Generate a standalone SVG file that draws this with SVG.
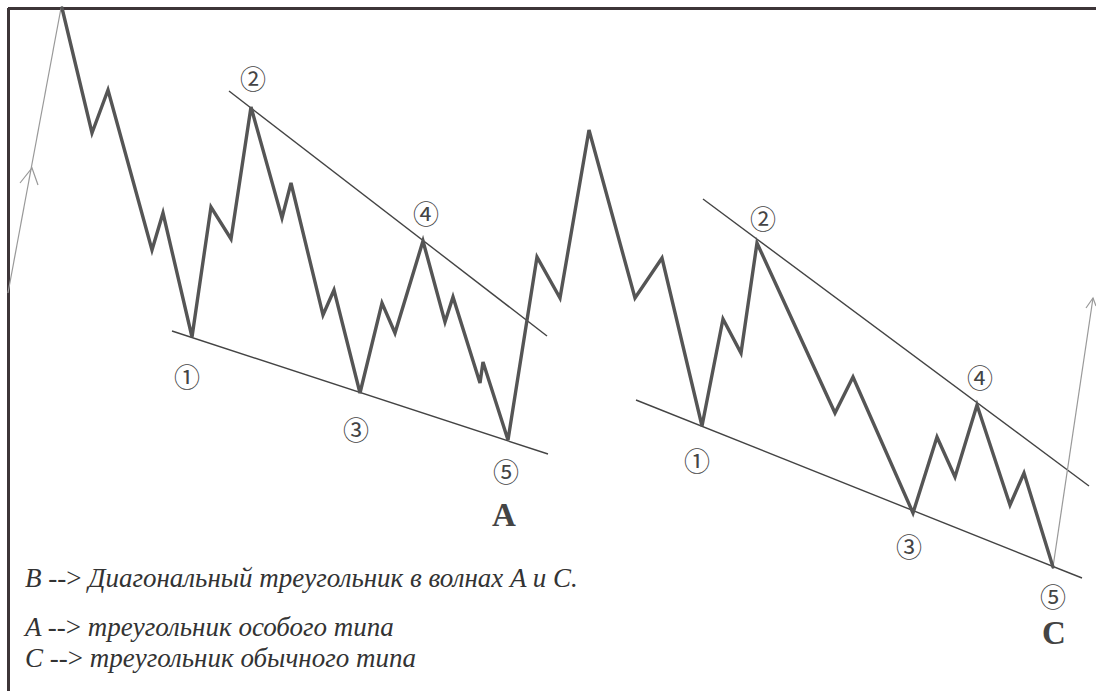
<svg xmlns="http://www.w3.org/2000/svg" width="1096" height="691" viewBox="0 0 1096 691">
  <style>
    .frame { stroke: #3d3538; stroke-width: 3; fill: none; }
    .wave { stroke: #555; stroke-width: 3.4; fill: none; stroke-linejoin: miter; stroke-linecap: round; }
    .trend { stroke: #444; stroke-width: 1.4; fill: none; }
    .thin { stroke: #999; stroke-width: 1.2; fill: none; }
    .num { font-family: "Noto Sans CJK JP", "DejaVu Sans", sans-serif; font-size: 26px; fill: #444; text-anchor: middle; dominant-baseline: central; }
    .big { font-family: "Liberation Serif", serif; font-weight: bold; font-size: 33px; fill: #444; text-anchor: middle; }
    .note { font-family: "Liberation Serif", serif; font-style: italic; font-size: 27px; fill: #333; }
    .up { font-style: normal; }
  </style>
  <rect width="1096" height="691" fill="#fff"/>
  <g id="frame">
    <line class="frame" x1="8" y1="8.5" x2="1096" y2="8.5"/>
    <line class="frame" x1="8.5" y1="8" x2="8.5" y2="691"/>
  </g>
  <g id="connectors">
    <g id="trendlines">
      <line class="trend" x1="229" y1="91" x2="547" y2="336"/>
      <line class="trend" x1="172" y1="331" x2="548" y2="454"/>
      <line class="trend" x1="703" y1="199" x2="1089" y2="486"/>
      <line class="trend" x1="636" y1="400" x2="1082" y2="578"/>
    </g>
    <g id="arrows">
      <path class="thin" d="M8,293 L61,8"/>
      <path class="thin" d="M20,183 L32,168 L38,185"/>
      <path class="thin" d="M1053,567 L1093,298"/>
      <path class="thin" d="M1086,308 L1093,298 L1096,306"/>
    </g>
    <polyline id="wave" class="wave" points="62,8 92,133 108,90 152,250 163,213 192,337 211,207 231,239 251,107 282,218 291,183 323,315 334,290 360,393 382,303 395,333 423,241 445,322 453,297 480,383 483,362 508,440 537,257 560,298 589,130 635,298 662,258 702,426 723,319 741,353 757,243 835,413 853,377 913,513 937,437 955,477 977,405 1010,505 1024,473 1053,567"/>
  </g>
  <g id="labels-A">
    <text class="num" x="187" y="375">①</text>
    <text class="num" x="253" y="77">②</text>
    <text class="num" x="356" y="428">③</text>
    <text class="num" x="426" y="212">④</text>
    <text class="num" x="506" y="470">⑤</text>
    <text class="big" x="504" y="526">A</text>
  </g>
  <g id="labels-C">
    <text class="num" x="697" y="459">①</text>
    <text class="num" x="763" y="217">②</text>
    <text class="num" x="909" y="545">③</text>
    <text class="num" x="980" y="376">④</text>
    <text class="num" x="1053" y="595">⑤</text>
    <text class="big" x="1054" y="644">C</text>
  </g>
  <g id="notes">
    <text class="note" x="25" y="587">B <tspan class="up">--&gt;</tspan> Диагональный треугольник в волнах A и C.</text>
    <text class="note" x="25" y="636">A <tspan class="up">--&gt;</tspan> треугольник особого типа</text>
    <text class="note" x="25" y="667">C <tspan class="up">--&gt;</tspan> треугольник обычного типа</text>
  </g>
</svg>
